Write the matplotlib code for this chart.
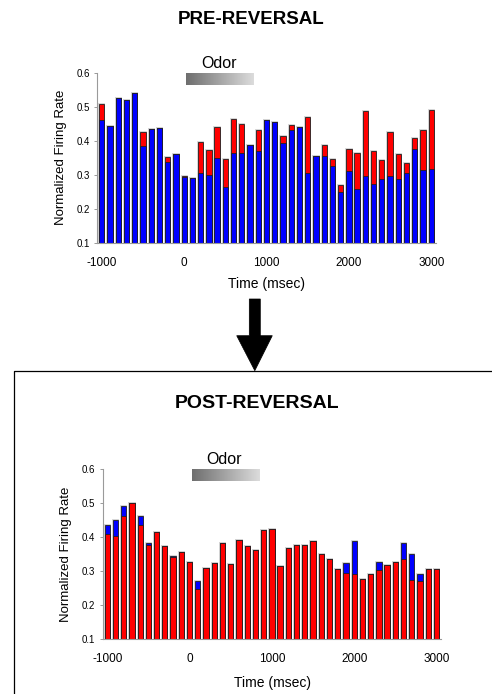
import matplotlib.pyplot as plt
import numpy as np
from matplotlib.colors import LinearSegmentedColormap
from matplotlib.patches import Polygon

plt.rcParams["font.family"] = ["Liberation Sans", "DejaVu Sans"]
plt.rcParams["axes.unicode_minus"] = False

# bin centres (msec)
time_bins = np.arange(-1000, 3001, 100)

# pre-reversal: red drawn behind, blue in front
pre_red = [0.508, 0.443, 0.525, 0.519, 0.541, 0.426, 0.435, 0.437, 0.353, 0.362,
           0.297, 0.291, 0.396, 0.373, 0.441, 0.346, 0.464, 0.448, 0.386, 0.432,
           0.462, 0.454, 0.414, 0.446, 0.440, 0.470, 0.356, 0.388, 0.345, 0.270,
           0.375, 0.364, 0.487, 0.370, 0.343, 0.425, 0.360, 0.335, 0.409, 0.432,
           0.490]
pre_blue = [0.461, 0.443, 0.525, 0.519, 0.541, 0.384, 0.435, 0.437, 0.336, 0.362,
            0.292, 0.291, 0.306, 0.300, 0.350, 0.265, 0.365, 0.365, 0.386, 0.369,
            0.462, 0.454, 0.392, 0.431, 0.440, 0.304, 0.356, 0.356, 0.325, 0.248,
            0.310, 0.258, 0.295, 0.273, 0.286, 0.296, 0.288, 0.305, 0.376, 0.314,
            0.317]

# post-reversal: blue drawn behind, red in front
post_blue = [0.434, 0.449, 0.490, 0.498, 0.461, 0.381, 0.415, 0.372, 0.345, 0.355,
             0.325, 0.271, 0.307, 0.323, 0.383, 0.320, 0.390, 0.373, 0.362, 0.419,
             0.423, 0.315, 0.368, 0.375, 0.375, 0.389, 0.350, 0.334, 0.306, 0.324,
             0.388, 0.275, 0.291, 0.326, 0.318, 0.325, 0.383, 0.349, 0.290, 0.306,
             0.306]
post_red = [0.407, 0.402, 0.462, 0.498, 0.435, 0.375, 0.415, 0.372, 0.341, 0.355,
            0.325, 0.246, 0.307, 0.323, 0.383, 0.320, 0.390, 0.373, 0.362, 0.419,
            0.423, 0.315, 0.368, 0.375, 0.375, 0.389, 0.350, 0.334, 0.306, 0.294,
            0.292, 0.275, 0.291, 0.302, 0.318, 0.325, 0.336, 0.274, 0.269, 0.306,
            0.306]

odor_start, odor_end = 25, 850
y_ticks = [0.1, 0.2, 0.3, 0.4, 0.5, 0.6]
x_ticks = [-1000, 0, 1000, 2000, 3000]

BLUE = "#0000ff"
RED = "#ff0000"
W, H = 492, 694


def draw_bars(ax, back, back_color, front, front_color):
    base = 0.1
    layers = ((back, back_color), (front, front_color))
    # faint grey halo round each bar, laid down first
    for vals, col in layers:
        ax.bar(time_bins, np.array(vals) - base, width=64, bottom=base,
               color=col, edgecolor="#d2d2d2", linewidth=1.3)
    for vals, col in layers:
        ax.bar(time_bins, np.array(vals) - base, width=64, bottom=base,
               color=col, edgecolor="#202020", linewidth=0.6)


def style_axes(ax, ylab_x, xlab_y):
    ax.set_xlim(-1055, 3058)
    ax.set_ylim(0.1, 0.6)
    ax.set_yticks(y_ticks)
    ax.set_yticklabels([f"{t:.1f}" for t in y_ticks])
    ax.set_xticks(x_ticks)
    ax.set_xticklabels([str(t) for t in x_ticks])
    for s in ("top", "right"):
        ax.spines[s].set_visible(False)
    for s in ("left", "bottom"):
        ax.spines[s].set_color("#9a9a9a")
        ax.spines[s].set_linewidth(0.8)
    ax.tick_params(axis="y", labelsize=7, length=2, width=0.7,
                   color="#9a9a9a", pad=3.5)
    ax.tick_params(axis="x", labelsize=8.5, length=0, pad=10)
    ax.set_ylabel("Normalized Firing Rate", fontsize=9.5)
    ax.set_xlabel("Time (msec)", fontsize=10)
    ax.yaxis.set_label_coords(ylab_x, 0.5)
    ax.xaxis.set_label_coords(0.5, xlab_y)

    # odor gradient bar
    grad = np.linspace(0, 1, 256).reshape(1, -1)
    cmap = LinearSegmentedColormap.from_list("odor", ["#6e6e6e", "#dcdcdc"])
    ax.imshow(grad, cmap=cmap, aspect="auto",
              extent=(odor_start, odor_end, 0.565, 0.598), zorder=3)
    ax.text((odor_start + odor_end) / 2 - 15, 0.604, "Odor", fontsize=11.5,
            ha="center", va="bottom", clip_on=False)


fig = plt.figure(figsize=(W / 100, H / 100), dpi=100)

ax1 = fig.add_axes([97.3 / W, 1 - 242.7 / H, 338.7 / W, 170 / H])
draw_bars(ax1, pre_red, RED, pre_blue, BLUE)
style_axes(ax1, -0.09, -0.20)

ax2 = fig.add_axes([102.7 / W, 1 - 639 / H, 338.6 / W, 170.3 / H])
draw_bars(ax2, post_blue, BLUE, post_red, RED)
style_axes(ax2, -0.092, -0.215)

# overlay in pixel units for arrow, box and titles
ov = fig.add_axes([0, 0, 1, 1], zorder=-1)
ov.set_xlim(0, W)
ov.set_ylim(H, 0)
ov.axis("off")

arrow = Polygon([(249.3, 299), (260.3, 299), (260.3, 335.7), (272.3, 335.7),
                 (254.8, 370.7), (236.7, 335.7), (249.3, 335.7)],
                closed=True, facecolor="black", edgecolor="black", linewidth=0.5)
ov.add_patch(arrow)
ov.plot([14, 14, W + 5], [H + 5, 370.7, 370.7], color="black", linewidth=0.9)

ov.text(251, 19, "PRE-REVERSAL", fontsize=13.5, fontweight="bold",
        ha="center", va="center")
ov.text(256.7, 403.3, "POST-REVERSAL", fontsize=14, fontweight="bold",
        ha="center", va="center")

fig.savefig("out.png", dpi=100)
